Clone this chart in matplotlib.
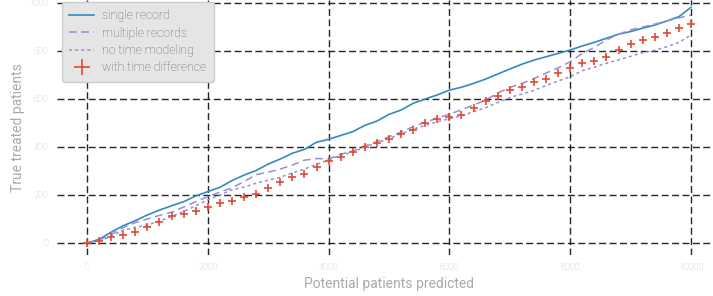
import numpy as np
import matplotlib
matplotlib.use('Agg')
import matplotlib.pyplot as plt

# predicted patients (x) every 200
predicted = np.arange(0, 10001, 200)

single_record = [0, 15, 45, 72, 93, 117, 137, 155, 172, 196, 214, 232, 260, 283, 302,
                 329, 350, 374, 390, 420, 432, 448, 464, 490, 508, 536, 554, 582, 600,
                 617, 637, 649, 665, 683, 704, 725, 745, 762, 776, 790, 804, 821, 836,
                 853, 870, 881, 895, 908, 925, 943, 982]
multiple_records = [0, 12, 35, 65, 85, 100, 115, 128, 150, 172, 193, 212, 230, 256, 285,
                    295, 308, 325, 345, 352, 350, 370, 383, 405, 422, 443, 462, 485, 503,
                    520, 537, 555, 575, 595, 625, 648, 665, 685, 708, 730, 755, 790, 815,
                    846, 870, 888, 900, 912, 925, 938, 950]
no_time = [0, 8, 28, 54, 65, 75, 92, 110, 131, 155, 180, 200, 222, 233, 249,
           262, 274, 292, 308, 328, 346, 366, 378, 400, 418, 435, 455, 474, 490,
           505, 518, 530, 547, 564, 585, 606, 621, 636, 656, 675, 693, 718, 733,
           749, 763, 778, 793, 803, 818, 836, 867]
time_diff = [0, 10, 24, 33, 47, 65, 89, 112, 122, 133, 149, 167, 175, 190, 205,
             228, 256, 274, 287, 315, 342, 360, 378, 401, 415, 432, 454, 469, 499,
             517, 524, 533, 561, 592, 614, 637, 651, 671, 685, 707, 728, 749, 760,
             776, 804, 828, 845, 858, 874, 895, 911]

plt.rcParams['font.family'] = ['Roboto', 'DejaVu Sans']
plt.rcParams['font.weight'] = 'light'

fig = plt.figure(figsize=(7.13, 2.96), dpi=100)
ax = fig.add_axes([56.8 / 713, 1 - 255 / 296, 664.4 / 713, 255 / 296])

ax.plot(predicted, single_record, color='#348ABD', lw=1.2, label='single record')
ax.plot(predicted, multiple_records, color='#988ED5', lw=1.1, ls=(0, (5, 3)),
        label='multiple records')
ax.plot(predicted, no_time, color='#988ED5', lw=1.1, ls=(0, (2, 2)),
        label='no time modeling')
ax.plot(predicted, time_diff, ls='none', marker='+', ms=5.5, mew=1.2,
        color='#E24A33', label='with time difference')

ax.set_xlim(-500, 10500)
ax.set_ylim(-50, 1012.5)
ax.set_xticks(range(0, 10001, 2000))
ax.set_yticks(range(0, 1001, 200))
ax.grid(True, color='k', ls=(0, (5, 2.5)), lw=1.0, alpha=0.85)
ax.set_axisbelow(True)
for s in ax.spines.values():
    s.set_visible(False)
ax.tick_params(axis='both', length=0, labelsize=6.5, labelcolor='#bbbbbb', pad=6)

ax.set_xlabel('Potential patients predicted', fontsize=10, color='#aaaaaa')
ax.xaxis.set_label_coords(0.5, -0.085)
ax.set_ylabel('True treated patients', fontsize=10, color='#aaaaaa')
ax.yaxis.set_label_coords(-0.048, 0.5)

leg = ax.legend(loc='upper left', bbox_to_anchor=(0.008, 0.992), borderaxespad=0,
                fontsize=8.8, facecolor='#e5e5e5', edgecolor='#cccccc', framealpha=1,
                markerscale=2.0, handlelength=2.0, handletextpad=0.7,
                labelspacing=0.35, borderpad=0.6)
for t in leg.get_texts():
    t.set_color('#666666')

fig.savefig('out.png', dpi=100)
